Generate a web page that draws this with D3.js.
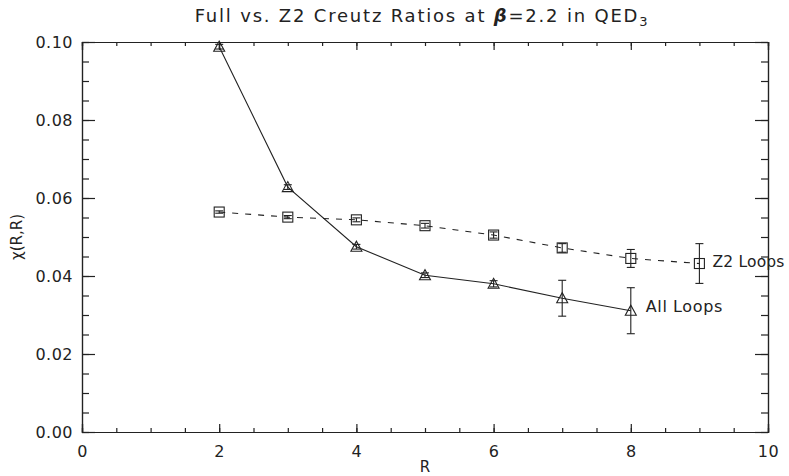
<!DOCTYPE html>
<head>
<meta charset="utf-8">
<script src="https://d3js.org/d3.v7.min.js"></script>
<style>
body { margin: 0; background: #fff; }
svg text { font-family: "DejaVu Sans", sans-serif; fill: #222; }
.axis path, .axis line { stroke: #222; stroke-width: 1.2; }
.axis text { font-size: 16px; letter-spacing: 0.5px; }
</style>
</head>
<body>
<script>
// R values and Creutz ratios
var rAll = [2, 3, 4, 5, 6, 7, 8];
var chiAll = [0.0988, 0.0628, 0.0475, 0.0402, 0.0380, 0.0343, 0.0311];
var errAll = [0.0006, 0.0006, 0.0006, 0.0006, 0.0008, 0.0046, 0.0059];

var rZ2 = [2, 3, 4, 5, 6, 7, 8, 9];
var chiZ2 = [0.0564, 0.0551, 0.0544, 0.0529, 0.0505, 0.0472, 0.0445, 0.0432];
var errZ2 = [0.0003, 0.0004, 0.0005, 0.0006, 0.0008, 0.0011, 0.0023, 0.0051];

var xTicks = [0, 2, 4, 6, 8, 10];
var yTicks = [0.00, 0.02, 0.04, 0.06, 0.08, 0.10];

var margin = {top: 42, right: 21, bottom: 44, left: 82};
var W = 789, H = 476;
var width = W - margin.left - margin.right;
var height = H - margin.top - margin.bottom;

var svg = d3.select("body").append("svg")
    .attr("width", W)
    .attr("height", H);

var g = svg.append("g")
    .attr("transform", "translate(" + margin.left + "," + margin.top + ")");

var x = d3.scaleLinear().domain([0, 10]).range([0, width]);
var y = d3.scaleLinear().domain([0, 0.1]).range([height, 0]);

var xMinor = d3.range(0, 10.01, 0.5);
var yMinor = d3.range(0, 0.1001, 0.005);

// minor ticks first, then major with labels
g.append("g").attr("class", "axis").attr("transform", "translate(0," + height + ")")
    .call(d3.axisBottom(x).tickValues(xMinor).tickSize(-4).tickFormat(""));
g.append("g").attr("class", "axis").attr("transform", "translate(0," + height + ")")
    .call(d3.axisBottom(x).tickValues(xTicks).tickSize(-8).tickPadding(14).tickFormat(d3.format("d")));
g.append("g").attr("class", "axis")
    .call(d3.axisTop(x).tickValues(xMinor).tickSize(-4).tickFormat(""));
g.append("g").attr("class", "axis")
    .call(d3.axisTop(x).tickValues(xTicks).tickSize(-8).tickFormat(""));

g.append("g").attr("class", "axis")
    .call(d3.axisLeft(y).tickValues(yMinor).tickSize(-7).tickFormat(""));
g.append("g").attr("class", "axis")
    .call(d3.axisLeft(y).tickValues(yTicks).tickSize(-13).tickPadding(9).tickFormat(d3.format(".2f")));
g.append("g").attr("class", "axis").attr("transform", "translate(" + width + ",0)")
    .call(d3.axisRight(y).tickValues(yMinor).tickSize(-7).tickFormat(""));
g.append("g").attr("class", "axis").attr("transform", "translate(" + width + ",0)")
    .call(d3.axisRight(y).tickValues(yTicks).tickSize(-13).tickFormat(""));

g.selectAll(".axis .domain").attr("stroke-width", 1.4);

var line = d3.line();

var ptsAll = rAll.map(function(r, i) { return [x(r), y(chiAll[i])]; });
var ptsZ2 = rZ2.map(function(r, i) { return [x(r), y(chiZ2[i])]; });

g.append("path").attr("d", line(ptsZ2))
    .attr("fill", "none").attr("stroke", "#222").attr("stroke-width", 1.1)
    .attr("stroke-dasharray", "6,7");
g.append("path").attr("d", line(ptsAll))
    .attr("fill", "none").attr("stroke", "#222").attr("stroke-width", 1.1);

function errorBars(rs, vals, errs) {
    var eb = g.append("g").attr("stroke", "#222").attr("stroke-width", 1.1);
    rs.forEach(function(r, i) {
        var cx = x(r), y0 = y(vals[i] - errs[i]), y1 = y(vals[i] + errs[i]);
        eb.append("line").attr("x1", cx).attr("x2", cx).attr("y1", y0).attr("y2", y1);
        eb.append("line").attr("x1", cx - 4).attr("x2", cx + 4).attr("y1", y0).attr("y2", y0);
        eb.append("line").attr("x1", cx - 4).attr("x2", cx + 4).attr("y1", y1).attr("y2", y1);
    });
}
errorBars(rZ2, chiZ2, errZ2);
errorBars(rAll, chiAll, errAll);

// square markers
g.selectAll(".sq").data(ptsZ2).enter().append("rect")
    .attr("x", function(d) { return d[0] - 5; })
    .attr("y", function(d) { return d[1] - 5; })
    .attr("width", 10).attr("height", 10)
    .attr("fill", "none").attr("stroke", "#222").attr("stroke-width", 1.1);

// triangle markers
g.selectAll(".tri").data(ptsAll).enter().append("path")
    .attr("d", function(d) {
        return "M" + (d[0] - 5.5) + "," + (d[1] + 4.5) +
               "L" + (d[0] + 5.5) + "," + (d[1] + 4.5) +
               "L" + d[0] + "," + (d[1] - 5.5) + "Z";
    })
    .attr("fill", "none").attr("stroke", "#222").attr("stroke-width", 1.1);

// series labels
var lastZ2 = ptsZ2[ptsZ2.length - 1], lastAll = ptsAll[ptsAll.length - 1];
g.append("text").attr("x", lastZ2[0] + 13).attr("y", lastZ2[1] + 3)
    .style("font-size", "15.5px").style("letter-spacing", "0.2px").text("Z2 Loops");
g.append("text").attr("x", lastAll[0] + 15).attr("y", lastAll[1] + 1)
    .style("font-size", "16px").style("letter-spacing", "0.6px").text("All Loops");

// axis titles
g.append("text").attr("x", width / 2).attr("y", height + 40)
    .attr("text-anchor", "middle").style("font-size", "15px").text("R");
g.append("text").attr("transform", "rotate(-90)")
    .attr("x", -height / 2).attr("y", -60)
    .attr("text-anchor", "middle").style("font-size", "15px").text("\u03c7(R,R)");

// title
var title = svg.append("text").attr("x", margin.left + width / 2 - 3).attr("y", 22)
    .attr("text-anchor", "middle").style("font-size", "18px").style("letter-spacing", "1.8px");
title.append("tspan").text("Full vs. Z2 Creutz Ratios at ");
title.append("tspan").style("font-weight", "bold").style("font-style", "italic").text("\u03b2");
title.append("tspan").text("=2.2 in QED");
title.append("tspan").attr("dy", 4).style("font-size", "13px").text("3");
</script>
</body>
